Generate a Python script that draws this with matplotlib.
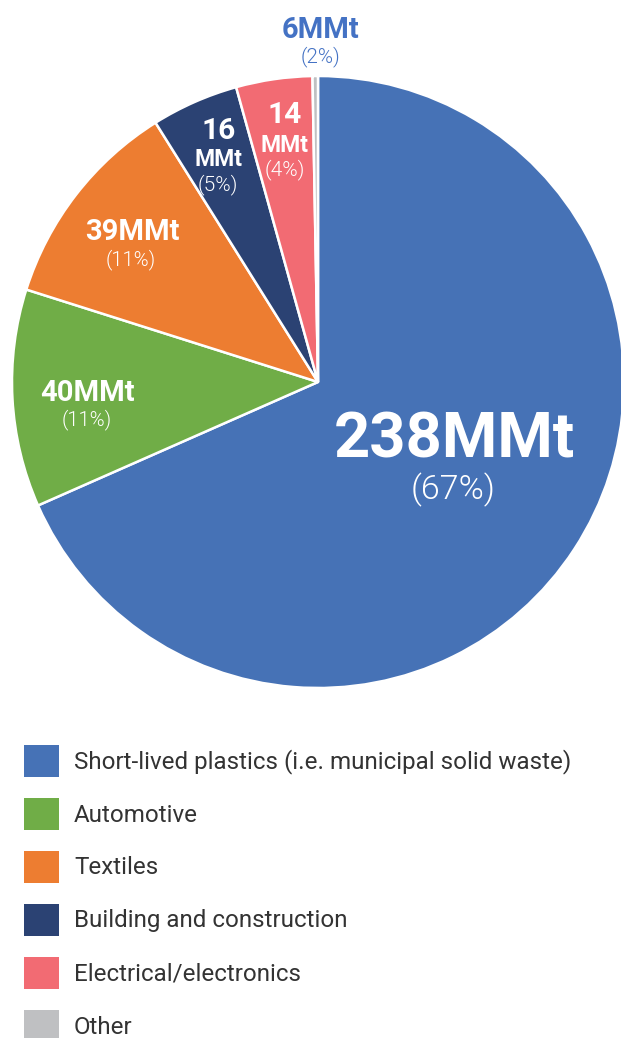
import matplotlib
matplotlib.use("Agg")
import matplotlib.pyplot as plt
from matplotlib.patches import Rectangle

plt.rcParams['font.family'] = ['Roboto', 'DejaVu Sans']

categories = ["Short-lived plastics (i.e. municipal solid waste)", "Automotive", "Textiles",
              "Building and construction", "Electrical/electronics", "Other"]
# slice sizes as drawn in the picture
values = [238, 40, 39, 16, 14, 1]
value_labels = ["238MMt", "40MMt", "39MMt", "16\nMMt", "14\nMMt", "6MMt"]
pct_labels = ["(67%)", "(11%)", "(11%)", "(5%)", "(4%)", "(2%)"]
colors = ["#4672B6", "#70AD47", "#ED7D31", "#2B4273", "#F26B73", "#BFC0C2"]

W, H = 621, 1038
fig = plt.figure(figsize=(W / 100, H / 100), dpi=100)
ax = fig.add_axes([0, 0, 1, 1])


def Y(py):
    return H - py

cx, cy, r = 318, Y(382), 306
ax.pie(values, colors=colors, startangle=90, counterclock=False, center=(cx, cy), radius=r,
       wedgeprops=dict(edgecolor="white", linewidth=1.8), frame=True)
ax.set_xlim(0, W)
ax.set_ylim(0, H)
ax.set_aspect("equal")
ax.axis("off")

PW = 300  # light weight for percentages

# big slice
ax.text(454, Y(440), value_labels[0], ha="center", va="center", color="white",
        fontsize=45.5, fontweight="bold")
ax.text(453, Y(490), pct_labels[0], ha="center", va="center", color="white",
        fontsize=24.5, fontweight=PW)
# automotive
ax.text(87, Y(393), value_labels[1], ha="center", va="center", color="white",
        fontsize=21, fontweight="bold")
ax.text(87, Y(420), pct_labels[1], ha="center", va="center", color="white",
        fontsize=14.5, fontweight=PW)
# textiles
ax.text(132, Y(232), value_labels[2], ha="center", va="center", color="white",
        fontsize=21, fontweight="bold")
ax.text(131, Y(260), pct_labels[2], ha="center", va="center", color="white",
        fontsize=14.5, fontweight=PW)
# building
n16, m16 = value_labels[3].split("\n")
ax.text(219, Y(131), n16, ha="center", va="center", color="white", fontsize=21.5, fontweight="bold")
ax.text(219, Y(160), m16, ha="center", va="center", color="white", fontsize=16.5, fontweight="bold")
ax.text(218, Y(185), pct_labels[3], ha="center", va="center", color="white",
        fontsize=15, fontweight=PW)
# electrical
n14, m14 = value_labels[4].split("\n")
ax.text(285, Y(115), n14, ha="center", va="center", color="white", fontsize=21.5, fontweight="bold")
ax.text(285, Y(145), m14, ha="center", va="center", color="white", fontsize=16.5, fontweight="bold")
ax.text(285, Y(170), pct_labels[4], ha="center", va="center", color="white",
        fontsize=15, fontweight=PW)
# other
ax.text(320, Y(30), value_labels[5], ha="center", va="center", color="#4472C4",
        fontsize=21, fontweight="bold")
ax.text(320, Y(57), pct_labels[5], ha="center", va="center", color="#4472C4",
        fontsize=14.8, fontweight=PW)

# legend
for i, (cat, col) in enumerate(zip(categories, colors)):
    yc = 761 + 53 * i
    ax.add_patch(Rectangle((24, Y(yc + 16)), 35, 32, facecolor=col, edgecolor="none"))
    ax.text(74, Y(yc + 1), cat, ha="left", va="center", color="#333333", fontsize=17.4)

fig.savefig("out.png", dpi=100)
